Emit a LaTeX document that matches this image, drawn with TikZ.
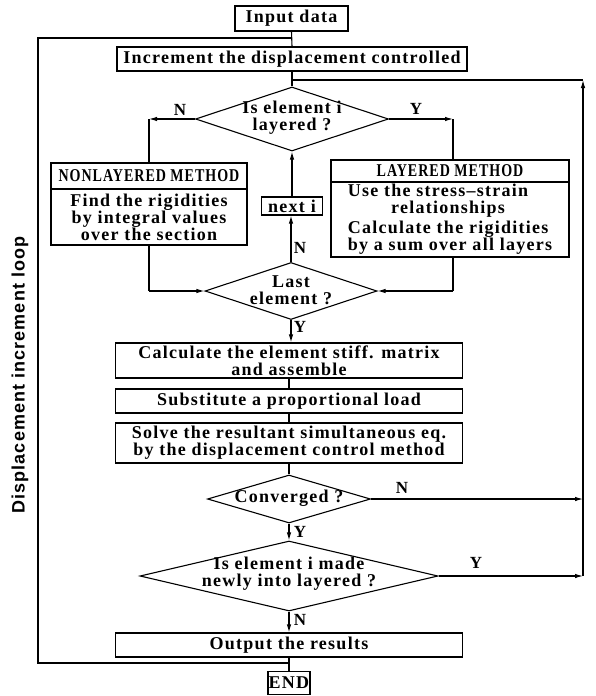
\documentclass[tikz,border=0pt]{standalone}
\usepackage{fontspec}
\setmainfont{Liberation Serif}[LetterSpace=7]
\newfontfamily\labfont{Liberation Sans}[LetterSpace=6]
\usetikzlibrary{shapes.geometric,arrows.meta}
\begin{document}
\begin{tikzpicture}[x=1pt,y=-1pt,
  every node/.style={font=\fontsize{18}{17}\selectfont\bfseries},
  box/.style={draw,line width=1.1pt,inner sep=0pt,align=center},
  dia/.style={draw,diamond,line width=1.1pt,inner sep=0pt},
  ln/.style={line width=1.1pt},
  arr/.style={line width=1.1pt,-{Latex[length=8pt,width=4.5pt]}},
  yn/.style={inner sep=0pt,font=\fontsize{17}{17}\selectfont\bfseries}]
\useasboundingbox (0,0) rectangle (596,696);
% boxes
\node[box,minimum width=113,minimum height=25] (inp) at (291.5,18.5) {Input data};
\node[box,minimum width=350,minimum height=24] (incr) at (292,59) {Increment the displacement controlled};
\node[dia,minimum width=193,minimum height=64] (d1) at (292,119) {};
\node[align=center,inner sep=0pt] (d1t) at (292,118) {Is element i\\layered ?};
\node[box,minimum width=196,minimum height=26] (nlT) at (149,176) {\scalebox{0.78}[1]{NONLAYERED METHOD}};
\node[box,minimum width=196,minimum height=56] (nlB) at (149,217) {Find the rigidities\\by integral values\\over the section};
\node[box,minimum width=238,minimum height=22] (lT) at (450,171) {\scalebox{0.78}[1]{LAYERED METHOD}};
\node[box,minimum width=238,minimum height=75,align=left] (lB) at (450,219.5) {Use the stress--strain\\\hspace*{2.4em}relationships\\[3pt]Calculate the rigidities\\by a sum over all layers};
\node[box,minimum width=61,minimum height=18] (nexti) at (292,206) {next i};
\node[dia,minimum width=172,minimum height=57] (d2) at (291,291) {};
\node[align=center,inner sep=0pt] (d2t) at (291,290) {Last\\element ?};
\node[box,minimum width=347,minimum height=35] (calc) at (289,360.5) {Calculate the element stiff. matrix\\and assemble};
\node[box,minimum width=347,minimum height=24] (sub) at (289,401) {Substitute a proportional load};
\node[box,minimum width=347,minimum height=40] (solve) at (289,443) {Solve the resultant simultaneous eq.\\by the displacement control method};
\node[dia,minimum width=163,minimum height=48] (conv) at (289,499) {};
\node[inner sep=0pt] (convt) at (289,498) {Converged ?};
\node[dia,minimum width=298,minimum height=70] (d3) at (289,576) {};
\node[align=center,inner sep=0pt] (d3t) at (289,574) {Is element i made\\newly into layered ?};
\node[box,minimum width=347,minimum height=24] (out) at (289,645) {Output the results};
\node[box,minimum width=42,minimum height=23] (endn) at (289,683) {END};
% helper coordinates
\coordinate (cl) at (149,119);
\coordinate (cr) at (453,119);
\coordinate (bl) at (149,291);
\coordinate (br) at (453,291);
\coordinate (rt) at (583,80);
\coordinate (rb) at (583,576);
\coordinate (rc) at (583,499);
\coordinate (lt) at (38,38);
\coordinate (lb) at (38,663);
% connectors
\draw[ln] (inp.south) -- (incr.north);
\draw[ln] (incr.south) -- (d1.north);
\draw[arr] (d1.west) -- (cl);
\draw[ln] (cl) -- (cl |- nlT.north);
\draw[arr] (d1.east) -- (cr);
\draw[ln] (cr) -- (cr |- lT.north);
\draw[ln] (nlB.south) -- (bl);
\draw[arr] (bl) -- (d2.west);
\draw[ln] (br |- lB.south) -- (br);
\draw[arr] (br) -- (d2.east);
\draw[arr] (d2.north) -- (d2.north |- nexti.south);
\draw[arr] (nexti.north) -- (d1.south);
\draw[arr] (d2.south) -- (d2.south |- calc.north);
\draw[ln] (calc.south) -- (sub.north);
\draw[ln] (sub.south) -- (solve.north);
\draw[ln] (solve.south) -- (conv.north);
\draw[arr] (conv.south) -- (d3.north);
\draw[arr] (conv.east) -- (rc);
\draw[arr] (d3.east) -- (rb);
\draw[arr] (d3.south) -- (out.north);
\draw[ln] (out.south) -- (endn.north);
\draw[arr] (rb) -- (rt);
\draw[ln] (rt) -- (rt -| incr.south);
\draw[ln] (lb -| out.south) -- (lb) -- (lt) -- (lt -| inp.south);
% labels
\node[yn] (n1) at (180,110) {N};
\node[yn] (y1) at (416,109) {Y};
\node[yn] (n2) at (300,248) {N};
\node[yn] (y2) at (300,327) {Y};
\node[yn] (n3) at (402,488) {N};
\node[yn] (y3) at (300,532) {Y};
\node[yn] (y4) at (476,563) {Y};
\node[yn] (n4) at (300,620) {N};
\node[rotate=90,font=\fontsize{18}{18}\labfont\bfseries] (loop) at (20,375) {Displacement increment loop};
\end{tikzpicture}
\end{document}
